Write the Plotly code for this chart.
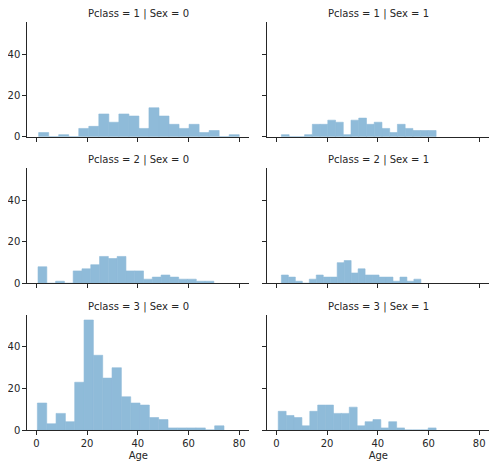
import numpy as np
import plotly.graph_objects as go

# Titanic age histograms, one facet per Pclass / Sex, 20 bins per facet
n_bins = 20
facet_pclass = [1, 1, 2, 2, 3, 3]
facet_sex = [0, 1, 0, 1, 0, 1]

# each facet's bins run from its own min age to its own max age
age_min = [0.92, 2.0, 0.67, 2.0, 0.42, 0.75]
age_max = [80.0, 63.0, 70.0, 57.0, 74.0, 63.0]

counts_p1_s0 = [2, 0, 1, 0, 4, 5, 11, 7, 11, 10, 4, 14, 10, 6, 4, 6, 2, 3, 0, 1]
counts_p1_s1 = [1, 0, 0, 1, 6, 6, 8, 7, 1, 8, 9, 6, 7, 4, 2, 6, 4, 3, 3, 3]
counts_p2_s0 = [8, 0, 1, 0, 6, 7, 9, 13, 12, 13, 6, 6, 2, 3, 4, 3, 2, 2, 1, 1]
counts_p2_s1 = [4, 3, 1, 0, 2, 4, 3, 3, 10, 11, 5, 7, 4, 4, 3, 3, 1, 3, 1, 2]
counts_p3_s0 = [13, 3, 8, 4, 23, 53, 36, 25, 30, 16, 13, 12, 6, 5, 1, 1, 1, 1, 0, 2]
counts_p3_s1 = [9, 7, 6, 2, 9, 12, 12, 8, 8, 11, 2, 4, 5, 1, 4, 1, 0, 0, 0, 1]

all_counts = [counts_p1_s0, counts_p1_s1, counts_p2_s0,
              counts_p2_s1, counts_p3_s0, counts_p3_s1]

x_ticks = [0, 20, 40, 60, 80]
y_ticks = [0, 20, 40]

# the page body has an 8px margin, so the figure is drawn 8px in from the corner
OFF = 8
W, H = 499 - OFF, 468 - OFF
text_color = '#262626'
bar_color = '#8fbbd9'  # C0 at alpha 0.5 on white

# pixel boxes of the axes (screen coordinates), converted to paper fractions
col_px = [(27.3, 249.3), (267.3, 489.3)]
row_px = [(21.7, 136.7), (168.3, 283.3), (314.5, 430.0)]

# shared limits like matplotlib autoscale (5% margins, bars stick at y=0)
lo, hi = min(age_min), max(age_max)
pad = (hi - lo) * 0.05
x_range = [lo - pad, hi + pad]
y_range = [0, max(max(c) for c in all_counts) * 1.05]

fig = go.Figure()
layout = dict(width=W, height=H, margin=dict(l=0, r=0, t=0, b=0),
              plot_bgcolor='white', paper_bgcolor='white', showlegend=False,
              font=dict(family='DejaVu Sans', size=10, color=text_color))
annotations = []

for i in range(6):
    row, col = i // 2, i % 2
    sfx = '' if i == 0 else str(i + 1)
    edges = np.linspace(age_min[i], age_max[i], n_bins + 1)
    fig.add_trace(go.Bar(
        x=edges[:-1], y=all_counts[i], width=np.diff(edges), offset=0,
        marker=dict(color=bar_color, line=dict(width=0.6, color=bar_color)),
        xaxis='x' + sfx, yaxis='y' + sfx, hoverinfo='x+y'))

    x0, x1 = (col_px[col][0] - OFF) / W, (col_px[col][1] - OFF) / W
    y1, y0 = 1 - (row_px[row][0] - OFF) / H, 1 - (row_px[row][1] - OFF) / H
    bottom = row == 2
    layout['xaxis' + sfx] = dict(
        domain=[x0, x1], anchor='y' + sfx, range=x_range, automargin=False,
        tickvals=x_ticks, showticklabels=bottom,
        ticks='outside', ticklen=4, tickcolor=text_color,
        showline=True, linecolor=text_color, linewidth=1,
        showgrid=False, zeroline=False,
        title=dict(text='Age', standoff=3, font=dict(size=10)) if bottom else None)
    layout['yaxis' + sfx] = dict(
        domain=[y0, y1], anchor='x' + sfx, range=y_range, automargin=False,
        tickvals=y_ticks, showticklabels=(col == 0),
        ticks='outside', ticklen=4, tickcolor=text_color,
        showline=True, linecolor=text_color, linewidth=1,
        showgrid=False, zeroline=False)
    annotations.append(dict(
        text=f'Pclass = {facet_pclass[i]} | Sex = {facet_sex[i]}',
        x=(x0 + x1) / 2, y=y1, xref='paper', yref='paper',
        xanchor='center', yanchor='bottom', yshift=0, showarrow=False,
        font=dict(size=10, color=text_color)))

layout['annotations'] = annotations
fig.update_layout(**layout)
fig.write_html("out.html")
